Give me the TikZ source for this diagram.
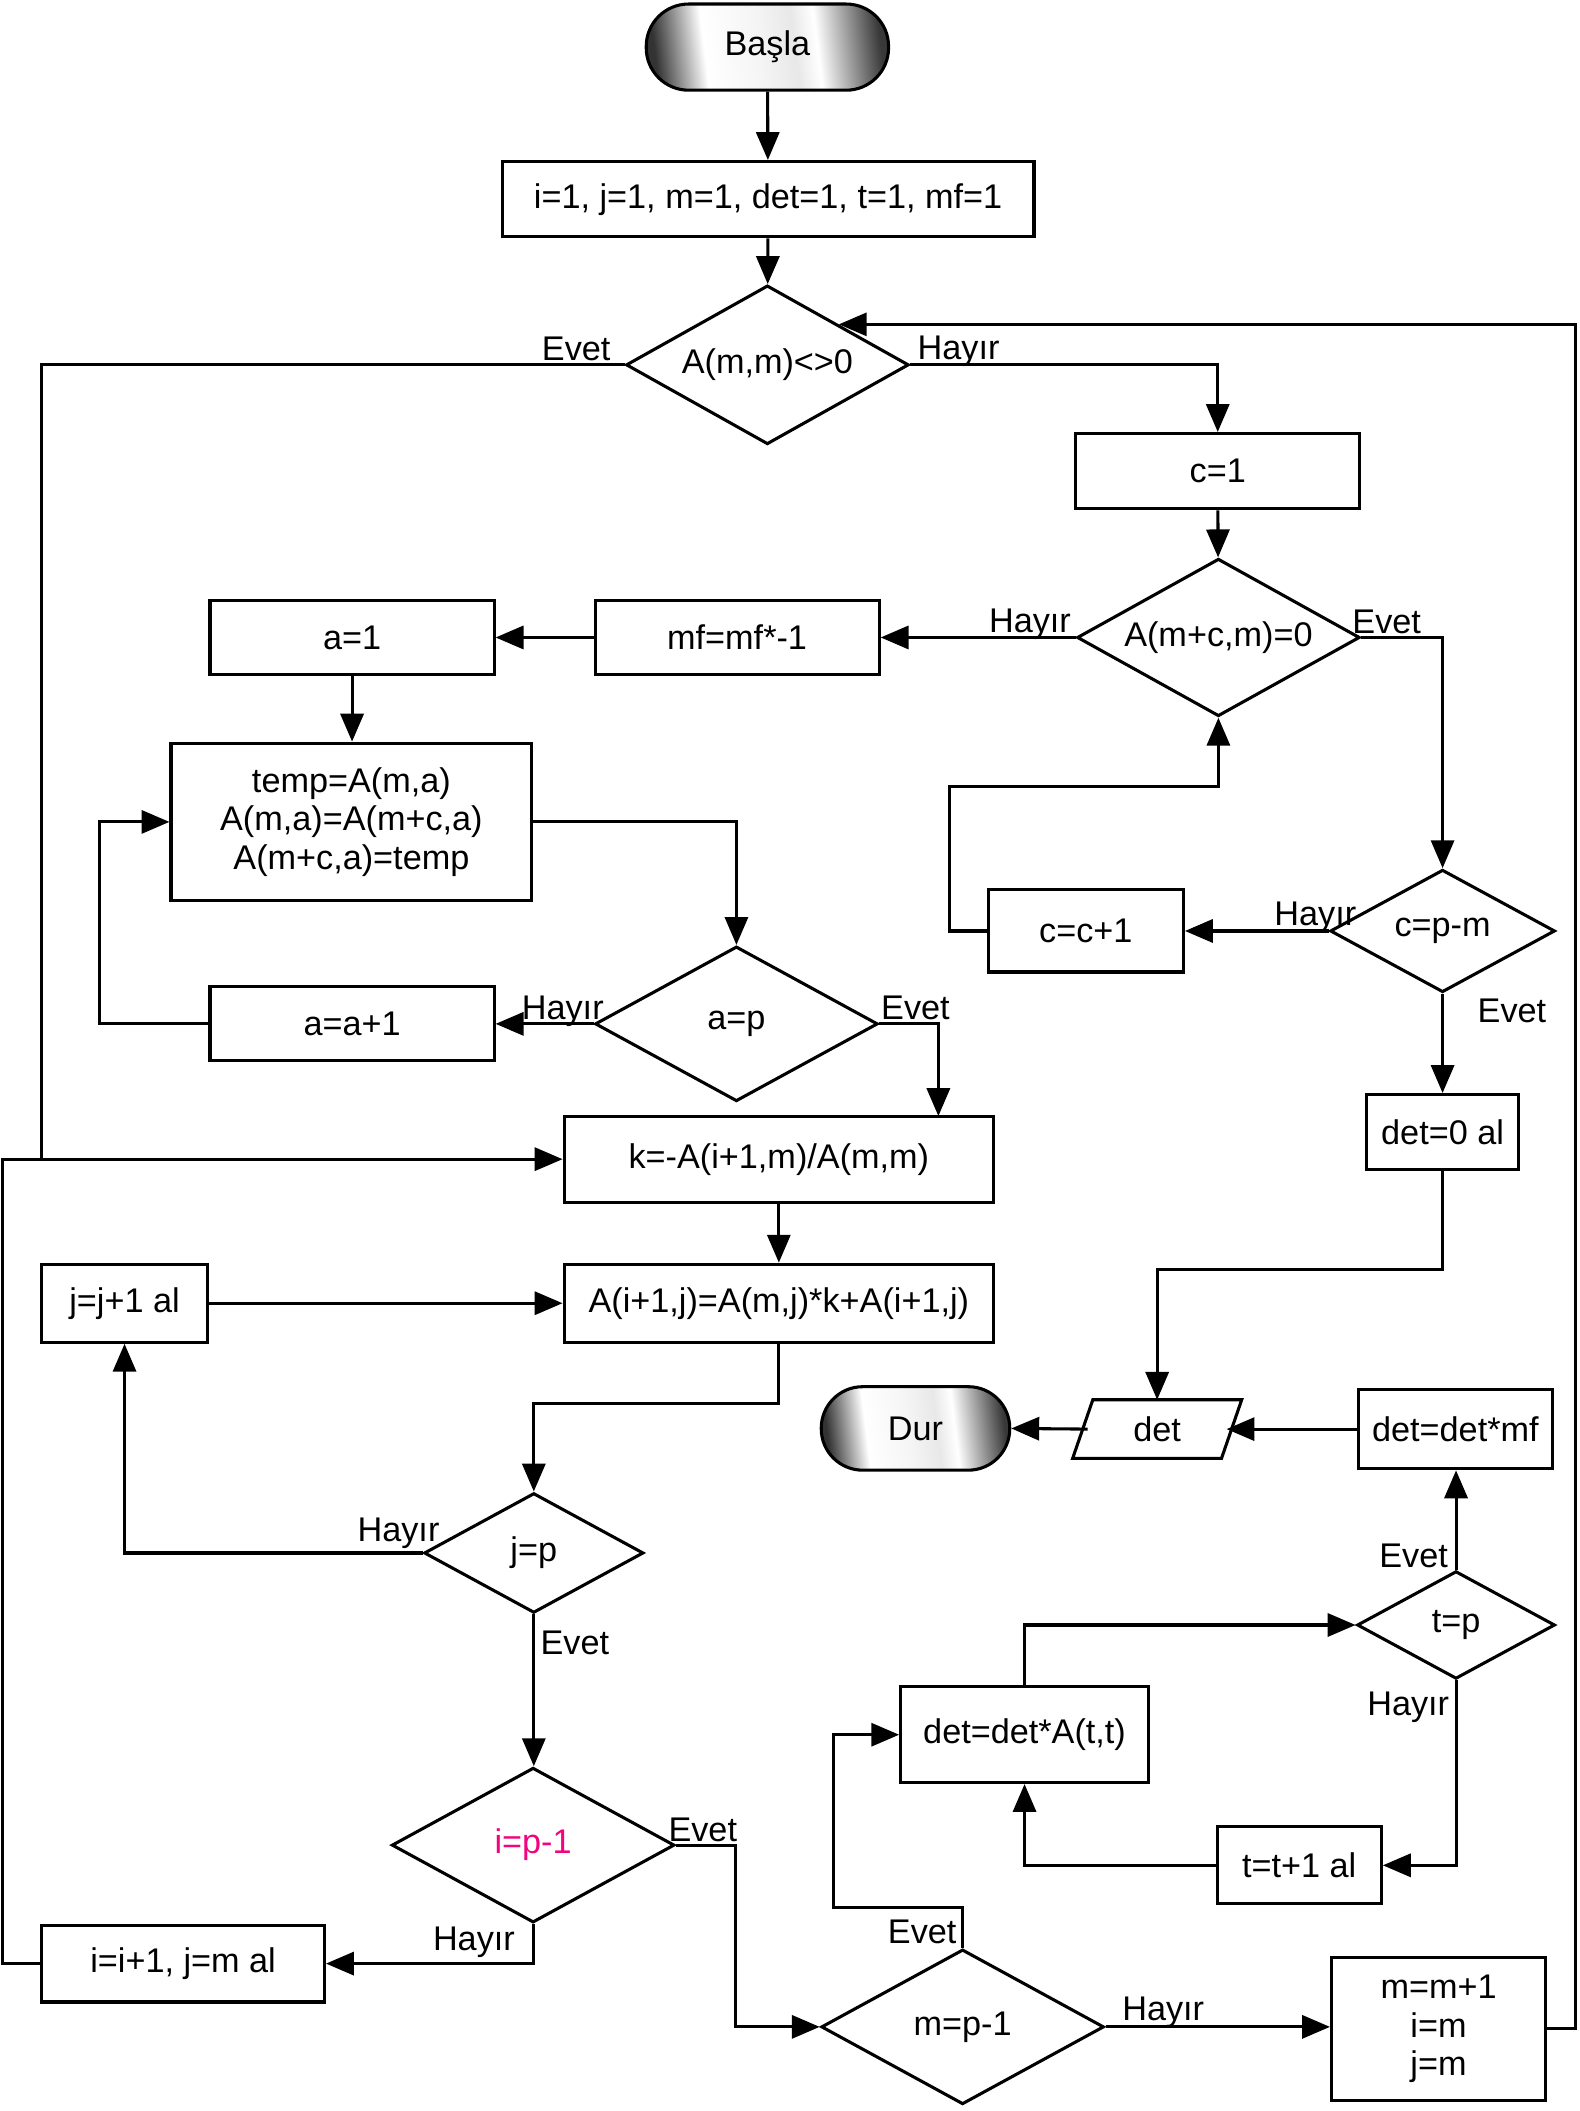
\documentclass[tikz,border=0pt]{standalone}
\usepackage{fontspec}
\setmainfont{Liberation Sans}
\usetikzlibrary{arrows.meta,shapes.geometric,calc}

% metallic fill of the start / end terminators (middle 50bp span maps onto the shape)
\pgfdeclarehorizontalshading{metal}{100bp}{%
  color(0bp)=(black!80); color(25bp)=(black!80); color(36bp)=(white);
  color(48bp)=(gray!8); color(56bp)=(gray!18); color(61bp)=(white);
  color(75bp)=(black!78); color(100bp)=(black!78)}
\definecolor{hot}{RGB}{240,4,127}

\tikzset{
  txt/.style={font=\fontsize{17.8}{20}\selectfont},
  box/.style={draw, line width=1.6pt, inner sep=0pt, align=center, txt},
  term/.style={draw, line width=1.6pt, inner sep=0pt, txt, shade, shading=metal, shading angle=7},
  dec/.style={draw, diamond, line width=1.6pt, inner sep=0pt, txt, shape aspect=1.8},
  lbl/.style={inner sep=0pt, txt},
  arr/.style={line width=1.6pt, -{Triangle[length=14.5pt,width=12pt]}},
  ln/.style={line width=1.6pt}}

\begin{document}
\begin{tikzpicture}[x=0.7pt,y=-0.7pt]

\useasboundingbox (0,0) rectangle (1173,1568);

% ---------- nodes (sizes in picture units of 0.7pt) ----------
\node[term, minimum width=180*0.7pt, minimum height=64*0.7pt, rounded corners=22pt] (start) at (570,35) {Başla};
\node[box, minimum width=395*0.7pt, minimum height=56*0.7pt] (init) at (570.5,148) {i=1, j=1, m=1, det=1, t=1, mf=1};
\node[dec, minimum width=210*0.7pt, minimum height=118*0.7pt] (d1) at (570,271) {A(m,m)<>0};
\node[box, minimum width=211*0.7pt, minimum height=56*0.7pt] (c1) at (904.5,350) {c=1};
\node[dec, minimum width=210*0.7pt, minimum height=117*0.7pt] (d2) at (905,473.5) {A(m+c,m)=0};
\node[box, minimum width=211*0.7pt, minimum height=55*0.7pt] (mf) at (547.5,473.5) {mf=mf*-1};
\node[box, minimum width=211*0.7pt, minimum height=55*0.7pt] (a1) at (261.5,473.5) {a=1};
\node[box, minimum width=268*0.7pt, minimum height=117*0.7pt] (temp) at (261,610.5) {temp=A(m,a)\\A(m,a)=A(m+c,a)\\A(m+c,a)=temp};
\node[dec, minimum width=210*0.7pt, minimum height=115*0.7pt] (d4) at (547,760.5) {a=p};
\node[box, minimum width=211*0.7pt, minimum height=55*0.7pt] (aa) at (261.5,760.5) {a=a+1};
\node[box, minimum width=319*0.7pt, minimum height=64*0.7pt] (k) at (578.5,861) {k=-A(i+1,m)/A(m,m)};
\node[box, minimum width=319*0.7pt, minimum height=58*0.7pt] (Ab) at (578.5,968) {A(i+1,j)=A(m,j)*k+A(i+1,j)};
\node[box, minimum width=123*0.7pt, minimum height=58*0.7pt] (jj) at (92.5,968) {j=j+1 al};
\node[dec, minimum width=163*0.7pt, minimum height=89*0.7pt] (d5) at (396.5,1153.5) {j=p};
\node[dec, minimum width=210*0.7pt, minimum height=115*0.7pt, text=hot] (d6) at (396,1370.5) {i=p-1};
\node[box, minimum width=210*0.7pt, minimum height=57*0.7pt] (ii) at (136,1458.5) {i=i+1, j=m al};
\node[dec, minimum width=210*0.7pt, minimum height=115*0.7pt] (d7) at (715,1505.5) {m=p-1};
\node[box, minimum width=159*0.7pt, minimum height=106*0.7pt] (mm) at (1068.5,1507) {m=m+1\\i=m\\j=m};
\node[box, minimum width=184*0.7pt, minimum height=71*0.7pt] (detA) at (761,1288.5) {det=det*A(t,t)};
\node[dec, minimum width=147*0.7pt, minimum height=80*0.7pt] (d8) at (1081.5,1207) {t=p};
\node[box, minimum width=122*0.7pt, minimum height=57*0.7pt] (tt) at (965,1385.5) {t=t+1 al};
\node[box, minimum width=144*0.7pt, minimum height=59*0.7pt] (dm) at (1081,1061.5) {det=det*mf};
\node[lbl, minimum width=110*0.7pt, minimum height=43*0.7pt] (det) at (859.5,1061.5) {det};
\node[term, minimum width=140*0.7pt, minimum height=62*0.7pt, rounded corners=21.5pt] (dur) at (680,1061) {Dur};
\node[box, minimum width=113*0.7pt, minimum height=56*0.7pt] (d0) at (1071.5,841) {det=0 al};
\node[dec, minimum width=167*0.7pt, minimum height=91*0.7pt] (d3) at (1071.5,691.5) {c=p-m};
\node[box, minimum width=145*0.7pt, minimum height=61*0.7pt] (cc) at (806.5,691.5) {c=c+1};

% output parallelogram around the "det" node
\draw[line width=1.6pt] ([xshift=5.25pt]det.north west) -- ([xshift=5.25pt]det.north east)
  -- ([xshift=-5.25pt]det.south east) -- ([xshift=-5.25pt]det.south west) -- cycle;

% ---------- branch labels ----------
\node[lbl] (l1) at (428,259) {Evet};
\node[lbl] (l2) at (712,261) {Hayır};
\node[lbl] (l3) at (765,464) {Hayır};
\node[lbl] (l4) at (1030,462) {Evet};
\node[lbl] (l5) at (977,681) {Hayır};
\node[lbl] (l6) at (1123,751) {Evet};
\node[lbl] (l7) at (418,751) {Hayır};
\node[lbl] (l8) at (680,749) {Evet};
\node[lbl] (l9) at (296,1139) {Hayır};
\node[lbl] (l10) at (427,1220) {Evet};
\node[lbl] (l11) at (522,1359) {Evet};
\node[lbl] (l12) at (352,1443) {Hayır};
\node[lbl] (l13) at (685,1435) {Evet};
\node[lbl] (l14) at (864,1495) {Hayır};
\node[lbl] (l15) at (1050,1156) {Evet};
\node[lbl] (l16) at (1046,1268) {Hayır};

% ---------- helper points ----------
\coordinate (railA) at (31,861);
\coordinate (railB) at (2,861);
\coordinate (kin) at (697,829);
\coordinate (ccup) at (705,584);
\coordinate (loopR) at (1170,1507);
\coordinate (d7up) at (619,1417);

% ---------- connectors ----------
\draw[arr] (start) -- (init);
\draw[arr] (init) -- (d1);
\draw[arr] (d1.west) -| (railA) -- (k.west);
\draw[ln] (ii.west) -| (railB) -- (railA);
\draw[arr] (d1.east) -| (c1.north);
\draw[arr] (c1) -- (d2);
\draw[arr] (d2.west) -- (mf.east);
\draw[arr] (d2.east) -| (d3.north);
\draw[arr] (mf.west) -- (a1.east);
\draw[arr] (a1.south) -- (a1.south |- temp.north);
\draw[arr] (temp.east) -| (d4.north);
\draw[arr] (d4.west) -- (aa.east);
\draw[arr] (d4.east) -| (kin);
\draw[arr] (aa.west) -- ++(-81,0) |- (temp.west);
\draw[arr] (k.south) -- (Ab.north);
\draw[arr] (Ab.south) -- ++(0,44) -| (d5.north);
\draw[arr] (jj.east) -- (Ab.west);
\draw[arr] (d5.west) -| (jj.south);
\draw[arr] (d5.south) -- (d5.south |- d6.north);
\draw[arr] (d6.east) -- ++(44,0) |- (d7.west);
\draw[arr] (d6.south) |- (ii.east);
\draw[arr] (d7.east) -- (mm.west |- d7.east);
\draw[arr] (d7.north) |- (d7up) |- (detA.west);
\draw[arr] (mm.east |- loopR) -- (loopR) |- ($(d1.north)!0.5!(d1.east)$);
\draw[arr] (detA.north) |- (d8.west);
\draw[arr] (d8.north) -- (d8.north |- dm.south);
\draw[arr] (d8.south) |- (tt.east);
\draw[arr] (tt.west) -| (detA.south);
\draw[arr] (dm.west) -- ([xshift=-2.6pt]det.east);
\draw[arr] ([xshift=2.6pt]det.west) -- (dur.east);
\draw[arr] (d3.west) -- (cc.east);
\draw[arr] (d3.south) -- (d0.north);
\draw[arr] (cc.west) -| (ccup) -| (d2.south);
\draw[arr] (d0.south) -- ++(0,73) -| (det.north);

\end{tikzpicture}
\end{document}
